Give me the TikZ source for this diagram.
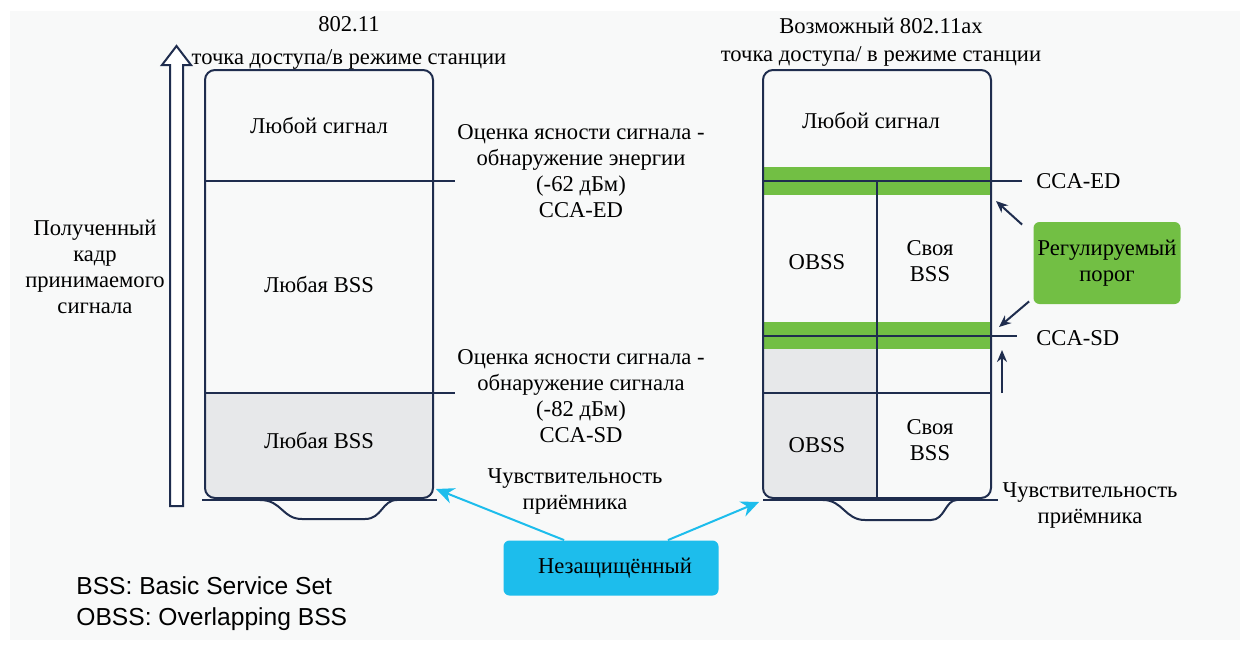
\documentclass[tikz,border=0pt]{standalone}
\usepackage{fontspec}
\setmainfont{Liberation Serif}
\setsansfont{Liberation Sans}
\usetikzlibrary{calc,positioning,arrows.meta}
\definecolor{navy}{RGB}{31,45,78}
\definecolor{bggray}{RGB}{248,249,249}
\definecolor{cellgray}{RGB}{231,232,234}
\definecolor{tgreen}{RGB}{114,191,68}
\definecolor{tcyan}{RGB}{29,189,236}
\tikzset{
	lbl/.style={align=center,inner sep=0pt,font=\fontsize{11.3}{13}\selectfont},
	frame/.style={draw=navy,line width=1pt,rounded corners=5pt},
	level/.style={draw=navy,line width=1pt},
	band/.style={fill=tgreen},
	tag/.style={lbl,rounded corners=3pt,text width=73pt},
	pointer/.style={draw=navy,line width=1pt,-{Stealth[length=6pt,width=5pt]}},
	hint/.style={draw=tcyan,line width=1pt,-{Stealth[length=9pt,width=8pt]}}
}

\begin{document}
\begin{tikzpicture}[x=0.5pt,y=-0.5pt]

\useasboundingbox (0,0) rectangle (1247,648);
\fill[bggray] (10,11) rectangle (1240,640);

% received signal arrow
\draw[navy,line width=1pt,fill=white] (170,506) -- (170,65) -- (162,65) -- (176.5,46)
	-- (191,65) -- (183,65) -- (183,506) -- cycle;
\node[lbl] (rxframe) at (95,267) {Полученный\\кадр\\принимаемого\\сигнала};

% 802.11 column
\node[lbl] (lhead) at (349,43) {802.11\\[3.5pt]точка доступа/в режиме станции};
\begin{scope}
	\clip[rounded corners=5pt] (205,70) rectangle (433,498);
	\fill[cellgray] (205,393) rectangle (433,498);
\end{scope}
\draw[frame] (205,70) rectangle (433,498);
\coordinate (led) at (455,181);
\coordinate (lsd) at (455,393);
\draw[level] (205,181) -- (led);
\draw[level] (205,393) -- (lsd);
\draw[level] (202,500) -- (437,500);
\draw[level] (260,500) .. controls (282,500) and (282,519) .. (302,519) -- (365,519)
	.. controls (382,519) and (382,500) .. (397,500);
\node[lbl] (lany) at (319,126) {Любой сигнал};
\node[lbl] (lbss) at (319,285) {Любая BSS};
\node[lbl] (lbss2) at (319,441) {Любая BSS};

\node[lbl] (edtext) at (581,171) {Оценка ясности сигнала -\\обнаружение энергии\\(-62 дБм)\\CCA-ED};
\node[lbl] (sdtext) at (581,396) {Оценка ясности сигнала -\\обнаружение сигнала\\(-82 дБм)\\CCA-SD};
\node[lbl] (lsens) at (575,491) {Чувствительность\\приёмника};

% 802.11ax column
\node[lbl] (rhead) at (881,42) {Возможный 802.11ax\\[1pt]точка доступа/ в режиме станции};
\begin{scope}
	\clip[rounded corners=5pt] (763,70) rectangle (991,498);
	\fill[band] (763,167) rectangle (991,195);
	\fill[band] (763,322) rectangle (991,349);
	\fill[cellgray] (763,349) rectangle (877,498);
\end{scope}
\draw[frame] (763,70) rectangle (991,498);
\coordinate (red) at (1022,181);
\coordinate (rsd) at (1017,336);
\draw[level] (763,181) -- (red);
\draw[level] (763,336) -- (rsd);
\draw[level] (763,393) -- (991,393);
\draw[level] (877,181) -- (877,498);
\draw[level] (763,500) -- (998,500);
\draw[level] (823,500) .. controls (843,500) and (845,520) .. (865,520) -- (931,520)
	.. controls (945,520) and (945,500) .. (957,500);
\node[lbl] (rany) at (871,121) {Любой сигнал};
\node[lbl] (robss) at (817,262) {OBSS};
\node[lbl] (rown) at (930,261) {Своя\\BSS};
\node[lbl] (robss2) at (817,445) {OBSS};
\node[lbl] (rown2) at (930,440) {Своя\\BSS};

\node[lbl,anchor=west] (edlbl) at (1036,181) {CCA-ED};
\node[lbl,anchor=west] (sdlbl) at (1036,338) {CCA-SD};
\node[lbl] (rsens) at (1090,505) {Чувствительность\\приёмника};

% adjustable threshold
\node[tag,fill=tgreen,minimum width=73.5pt,minimum height=41pt] (thresh) at (1107,263) {Регулируемый\\порог};
\coordinate (edtip) at (996,201);
\coordinate (sdtip) at (999,327);
\coordinate (sdbase) at (1002,393);
\coordinate (sdup) at (1002,350);
\draw[pointer] ($(thresh.north west)+(-11,3)$) -- (edtip);
\draw[pointer] ($(thresh.south west)+(-4,-3)$) -- (sdtip);
\draw[pointer] (sdbase) -- (sdup);

% unprotected
\node[tag,fill=tcyan,minimum width=107.5pt,minimum height=27.5pt] (unprot) at (611,568) {Незащищённый};
\coordinate (lcorner) at (436,489);
\coordinate (rcorner) at (759,502);
\draw[hint] ($(unprot.north west)+(61,0)$) -- (lcorner);
\draw[hint] ($(unprot.north east)+(-51,0)$) -- (rcorner);

% legend
\node[anchor=west,align=left,inner sep=0pt,font=\sffamily\fontsize{12.3}{15.5}\selectfont] (legend) at (76,604)
	{BSS: Basic Service Set\\OBSS: Overlapping BSS};

\end{tikzpicture}
\end{document}
